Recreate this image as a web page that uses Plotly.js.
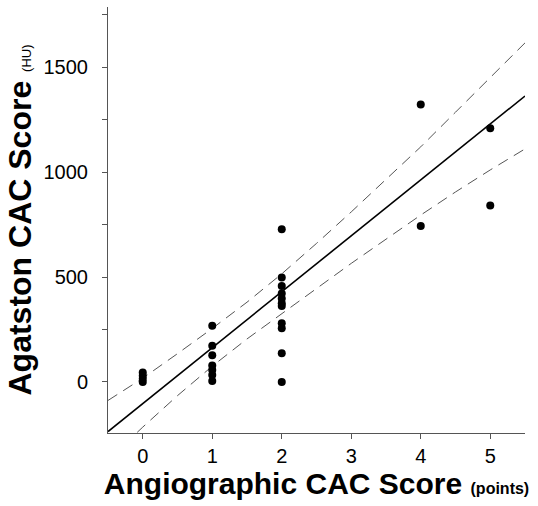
<!DOCTYPE html>
<html>
<head>
<meta charset="utf-8">
<script src="https://cdn.plot.ly/plotly-3.0.1.min.js"></script>
<style>html,body{margin:0;padding:0;background:#fff;}#chart{width:538px;height:506px;}</style>
</head>
<body>
<div id="chart"></div>
<script>
// Observed points (Angiographic score vs Agatston score)
const angioScore = [0,0,0,0, 1,1,1,1,1,1,1, 2,2,2,2,2,2,2,2,2,2,2, 4,4, 5,5];
const agatstonScore = [0,15,30,45, 5,33,57,79,127,173,268, 0,137,256,280,362,375,398,422,457,498,727, 743,1322, 840,1208];

// Regression line
const fitX = [-0.5, 5.5];
const fitY = [-236, 1362];

// 95% confidence band
const upperX = [-0.5, 0, 0.5, 1, 1.5, 2, 2.5, 3, 3.5, 4, 4.5, 5, 5.5];
const upperY = [-88, 18, 135, 255, 380, 515, 660, 810, 965, 1120, 1285, 1450, 1615];
const lowerX = [-0.08, 0, 0.5, 1, 1.5, 2, 2.5, 3, 3.5, 4, 4.5, 5, 5.5];
const lowerY = [-240, -215, -65, 75, 205, 325, 445, 565, 680, 795, 905, 1010, 1110];

// Ticks
const xTickVals = [0, 1, 2, 3, 4, 5];
const xTickText = ['0', '1', '2', '3', '4', '5'];
const yTickVals = [0, 250, 500, 750, 1000, 1250, 1500, 1750];
const yTickText = ['0', '', '500', '', '1000', '', '1500', ''];

const FONT = 'Liberation Sans, Arial, Helvetica, sans-serif';
const dashStyle = {color: '#555555', width: 1, dash: '11px,7px'};

const traces = [
  {x: upperX, y: upperY, type: 'scatter', mode: 'lines', line: dashStyle, hoverinfo: 'skip'},
  {x: lowerX, y: lowerY, type: 'scatter', mode: 'lines', line: dashStyle, hoverinfo: 'skip'},
  {x: fitX, y: fitY, type: 'scatter', mode: 'lines', line: {color: '#000000', width: 1.6}},
  {x: angioScore, y: agatstonScore, type: 'scatter', mode: 'markers',
   marker: {color: '#000000', size: 8, line: {width: 0}}}
];

const layout = {
  width: 538, height: 506,
  margin: {l: 108, r: 13, t: 7, b: 73, pad: 0},
  showlegend: false,
  paper_bgcolor: '#ffffff', plot_bgcolor: '#ffffff',
  font: {family: FONT, color: '#000000'},
  xaxis: {
    range: [-0.5, 5.5], showgrid: false, zeroline: false,
    showline: true, linecolor: '#555555', linewidth: 1,
    ticks: 'outside', ticklen: 5, tickcolor: '#555555', tickwidth: 1,
    tickvals: xTickVals, ticktext: xTickText,
    tickfont: {family: FONT, size: 20, color: '#000000'},
    title: {
      text: 'Angiographic CAC Score <span style="font-size:16px">(points)</span>',
      font: {family: FONT, size: 30, color: '#000000', weight: 'bold'},
      standoff: 6
    }
  },
  yaxis: {
    range: [-243, 1786], showgrid: false, zeroline: false,
    showline: true, linecolor: '#555555', linewidth: 1,
    ticks: 'outside', ticklen: 5, tickcolor: '#555555', tickwidth: 1,
    tickvals: yTickVals, ticktext: yTickText,
    ticklabelstandoff: 10,
    tickfont: {family: FONT, size: 20, color: '#000000'},
    title: {
      text: 'Agatston CAC Score <span style="font-size:13px;font-weight:normal">(HU)</span>',
      font: {family: FONT, size: 32, color: '#000000', weight: 'bold'},
      standoff: 2
    }
  }
};

Plotly.newPlot('chart', traces, layout, {displayModeBar: false, staticPlot: true});
</script>
</body>
</html>
